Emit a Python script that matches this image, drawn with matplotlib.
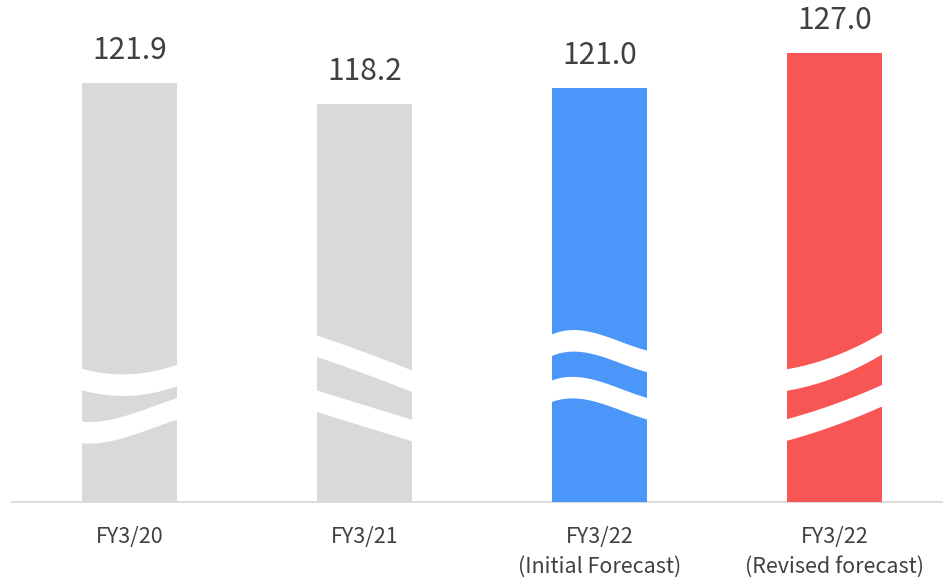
import numpy as np
import matplotlib
matplotlib.use("Agg")
import matplotlib.pyplot as plt

plt.rcParams["font.family"] = ["Noto Sans CJK JP", "DejaVu Sans"]

# Chart data
CATEGORIES = ["FY3/20", "FY3/21",
              "FY3/22\n(Initial Forecast)", "FY3/22\n(Revised forecast)"]
VALUES = [121.9, 118.2, 121.0, 127.0]
BAR_COLORS = ["#d9d9d9", "#d9d9d9", "#4a96f9", "#f85654"]

# Axis-break marks: two white waves per bar, centre line sampled at
# fractions of the bar width (value-axis units)
WAVE_T = [
    [[0.0, 0.5, 1.0], [0.0, 0.3, 0.64, 1.0]],
    [[0.0, 0.5, 1.0], [0.0, 0.5, 1.0]],
    [[0.0, 0.35, 0.7, 1.0], [0.0, 0.35, 0.7, 1.0]],
    [[0.0, 0.5, 1.0], [0.0, 0.5, 1.0]],
]
WAVE_Y = [
    [[70.66, 69.71, 71.35], [61.52, 61.86, 63.50, 65.57]],
    [[76.41, 73.51, 70.37], [66.92, 64.37, 61.86]],
    [[76.57, 77.17, 75.46, 73.80], [68.64, 69.06, 67.35, 65.63]],
    [[70.58, 72.82, 76.82], [61.95, 64.54, 67.85]],
]
WAVE_HALF = 1.86

TEXT_COLOR = "#404040"
BAR_WIDTH = 0.404

fig = plt.figure(figsize=(9.43, 5.81), dpi=100)
ax = fig.add_axes([0, 79 / 581, 1, 502 / 581])

x = np.arange(len(VALUES))
ax.bar(x, VALUES, width=BAR_WIDTH, color=BAR_COLORS, zorder=2)

# white wavy break marks
for i in range(len(VALUES)):
    xs = np.linspace(i - BAR_WIDTH / 2 - 0.01, i + BAR_WIDTH / 2 + 0.01, 200)
    tt = (xs - (i - BAR_WIDTH / 2)) / BAR_WIDTH
    for t_pts, y_pts in zip(WAVE_T[i], WAVE_Y[i]):
        coef = np.polyfit(t_pts, y_pts, len(t_pts) - 1)
        yc = np.polyval(coef, tt)
        ax.fill_between(xs, yc - WAVE_HALF, yc + WAVE_HALF,
                        facecolor="white", linewidth=0, zorder=3)

# value labels
for xi, v in zip(x, VALUES):
    ax.annotate(f"{v:.1f}", (xi, v), xytext=(0, 17),
                textcoords="offset points", ha="center", va="baseline",
                fontsize=21.5, color=TEXT_COLOR)

ax.set_xlim(-0.551, 3.462)
ax.set_ylim(49.52, 136.15)

for side in ("left", "right", "top"):
    ax.spines[side].set_visible(False)
ax.spines["bottom"].set_color("#d9d9d9")
ax.spines["bottom"].set_linewidth(1.3)
ax.spines["bottom"].set_bounds(-0.5, 3.462)
ax.spines["bottom"].set_zorder(1)

ax.set_yticks([])
ax.set_xticks(x)
ax.set_xticklabels(CATEGORIES, fontsize=15.5, color=TEXT_COLOR,
                   linespacing=1.5, va="top")
ax.tick_params(axis="x", length=0, pad=17)

fig.savefig("out.png", dpi=100, facecolor="white")
